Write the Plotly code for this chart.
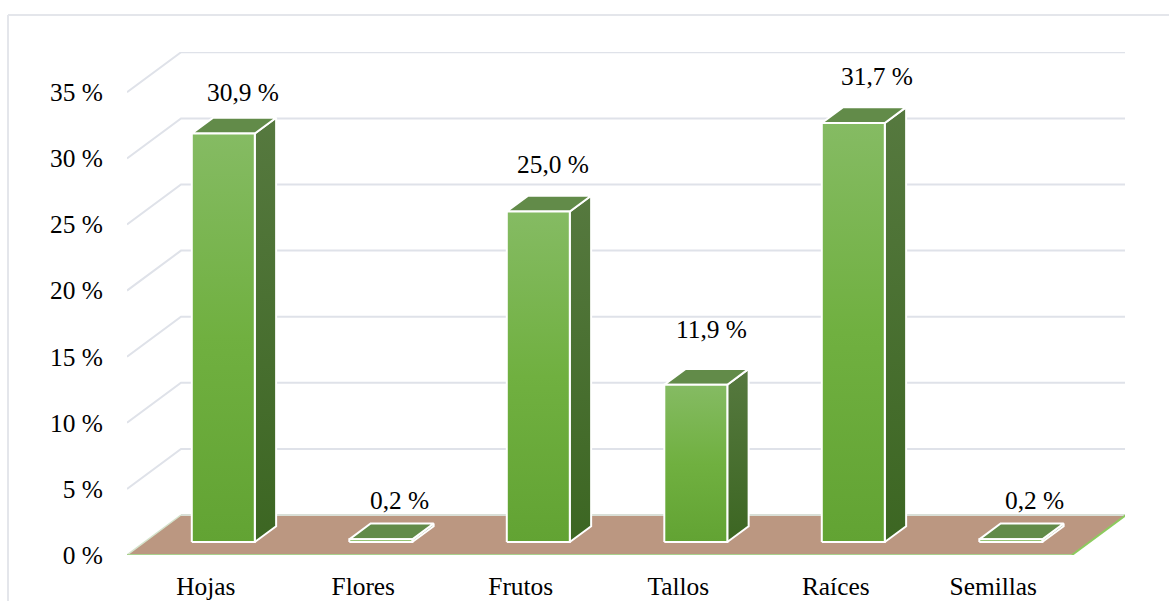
import plotly.graph_objects as go

categories = ["Hojas", "Flores", "Frutos", "Tallos", "Raíces", "Semillas"]
values = [30.9, 0.2, 25.0, 11.9, 31.7, 0.2]
y_ticks = [0, 5, 10, 15, 20, 25, 30, 35]
y_tick_labels = [f"{t} %" for t in y_ticks]

# Pixel offsets of each value label from the centre of its bar's top face
label_dx = [9, 8, 4, 5, 13, 13]
label_dy = [34, 31, 40, 48, 39, 31]

WIDTH, HEIGHT = 1169, 601
LEFT, RIGHT, TOP, BOTTOM = 127, 44, 52, 46
PX_PER_CAT = 157.5
PX_PER_UNIT = 13.22
FONT = '"Liberation Serif", "Times New Roman", serif'
FONT_SIZE = 25.4
TEXT_COLOR = "#000000"

# Oblique projection: a full step into the floor moves right and up on the axes
DEPTH_X = 54 / PX_PER_CAT
DEPTH_Y = 40 / PX_PER_UNIT
BAR_WIDTH = 0.4
BAR_NEAR, BAR_FAR = 0.325, 0.72

plot_w = WIDTH - LEFT - RIGHT
plot_h = HEIGHT - TOP - BOTTOM
x_range = [-0.5, -0.5 + plot_w / PX_PER_CAT]
y_range = [0, plot_h / PX_PER_UNIT]
x_min = -0.5
x_max = len(categories) - 0.5


def project(x, y, depth):
    return x + depth * DEPTH_X, y + depth * DEPTH_Y


def polygon(points, **kwargs):
    xs = [p[0] for p in points] + [points[0][0]]
    ys = [p[1] for p in points] + [points[0][1]]
    return go.Scatter(x=xs, y=ys, mode="lines", fill="toself",
                      hoverinfo="skip", showlegend=False, **kwargs)


def edge(p, q, color, width):
    return go.Scatter(x=[p[0], q[0]], y=[p[1], q[1]], mode="lines",
                      line=dict(color=color, width=width), cliponaxis=False,
                      hoverinfo="skip", showlegend=False)


fig = go.Figure()

# Wall and side gridlines
grid_x, grid_y = [], []
for t in y_ticks:
    if t == 0:
        continue
    a = project(x_min, t, 0)
    b = project(x_min, t, 1)
    c = project(x_max, t, 1)
    grid_x += [a[0], b[0], c[0], None]
    grid_y += [a[1], b[1], c[1], None]
fig.add_trace(go.Scatter(x=grid_x, y=grid_y, mode="lines", cliponaxis=False,
                         line=dict(color="#DFE2E9", width=2),
                         hoverinfo="skip", showlegend=False))

# Floor
f0 = project(x_min, 0, 0)
f1 = project(x_max, 0, 0)
f2 = project(x_max, 0, 1)
f3 = project(x_min, 0, 1)
fig.add_trace(polygon([f0, f1, f2, f3], fillcolor="#BB9781",
                      line=dict(color="rgba(0,0,0,0)", width=0)))
fig.add_trace(edge(f3, f2, "#D9DFD6", 2))
fig.add_trace(edge(f0, f3, "#D5E3CC", 1.5))
fig.add_trace(edge(f0, f1, "#A9D18E", 2))
fig.add_trace(edge(f1, f2, "#8CCB5E", 2))

# Bars: side face, top face, then front face
outline = dict(color="#FFFFFF", width=2)
annotations = []
for i, v in enumerate(values):
    xl, xr = i - BAR_WIDTH / 2, i + BAR_WIDTH / 2
    nbl = project(xl, 0, BAR_NEAR)
    nbr = project(xr, 0, BAR_NEAR)
    ntl = project(xl, v, BAR_NEAR)
    ntr = project(xr, v, BAR_NEAR)
    fbr = project(xr, 0, BAR_FAR)
    ftr = project(xr, v, BAR_FAR)
    ftl = project(xl, v, BAR_FAR)

    fig.add_trace(polygon(
        [nbr, fbr, ftr, ntr], line=outline,
        fillgradient=dict(type="vertical",
                          colorscale=[[0, "#3C6622"], [1, "#56793F"]],
                          start=nbr[1], stop=ftr[1])))
    fig.add_trace(polygon([ntl, ntr, ftr, ftl], line=outline,
                          fillcolor="#628B49"))
    fig.add_trace(polygon(
        [nbl, nbr, ntr, ntl], line=outline,
        fillgradient=dict(type="vertical",
                          colorscale=[[0, "#62A333"], [0.5, "#70B040"], [1, "#85BB63"]],
                          start=nbl[1], stop=ntl[1])))

    cx = (ntl[0] + ftr[0]) / 2
    cy = (ntl[1] + ftr[1]) / 2
    annotations.append(dict(
        x=cx, y=cy, xref="x", yref="y", showarrow=False,
        text=f"{v:.1f} %".replace(".", ","),
        xshift=label_dx[i], yshift=label_dy[i],
        font=dict(family=FONT, size=FONT_SIZE, color=TEXT_COLOR),
    ))


def paper_x(px):
    return (px - LEFT) / plot_w


def paper_y(py):
    return 1 - (py - TOP) / plot_h


frame = dict(color="#E4E6EB", width=2)
shapes = [
    dict(type="line", xref="paper", yref="paper", layer="below", line=frame,
         x0=paper_x(8), x1=paper_x(WIDTH), y0=paper_y(15), y1=paper_y(15)),
    dict(type="line", xref="paper", yref="paper", layer="below", line=frame,
         x0=paper_x(8), x1=paper_x(8), y0=paper_y(15), y1=paper_y(HEIGHT)),
]

fig.update_layout(
    width=WIDTH, height=HEIGHT,
    margin=dict(l=LEFT, r=RIGHT, t=TOP, b=BOTTOM, pad=0, autoexpand=False),
    paper_bgcolor="#FFFFFF", plot_bgcolor="rgba(0,0,0,0)",
    showlegend=False, annotations=annotations, shapes=shapes,
    font=dict(family=FONT, size=FONT_SIZE, color=TEXT_COLOR),
    xaxis=dict(range=x_range, tickmode="array",
               tickvals=list(range(len(categories))), ticktext=categories,
               showgrid=False, zeroline=False, showline=False, ticks="",
               ticklabelstandoff=14, automargin=False, fixedrange=True),
    yaxis=dict(range=y_range, tickmode="array", tickvals=y_ticks,
               ticktext=y_tick_labels, showgrid=False, zeroline=False,
               showline=False, ticks="", ticklabelstandoff=23, automargin=False,
               fixedrange=True),
)

fig.write_html("out.html", config=dict(displayModeBar=False))
